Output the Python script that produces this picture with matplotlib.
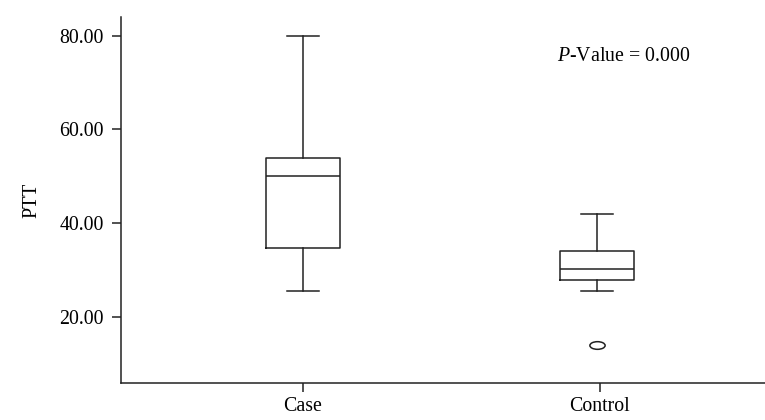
import matplotlib
matplotlib.use("Agg")
import matplotlib.pyplot as plt
from matplotlib.path import Path
from matplotlib.transforms import Affine2D

plt.rcParams['font.family'] = ['Liberation Serif', 'DejaVu Serif']
plt.rcParams['mathtext.fontset'] = 'custom'
plt.rcParams['mathtext.rm'] = 'Liberation Serif'
plt.rcParams['mathtext.it'] = 'Liberation Serif:italic'

# data
groups = ['Case', 'Control']
whislo = [25.4, 25.4]
q1 = [34.6, 27.8]
med = [50.0, 30.1]
q3 = [53.8, 34.0]
whishi = [80.0, 41.8]
outliers = [[], [14.0]]
yticks = [20, 40, 60, 80]

stats = []
for i in range(len(groups)):
    stats.append({'label': groups[i], 'whislo': whislo[i], 'q1': q1[i], 'med': med[i],
                  'q3': q3[i], 'whishi': whishi[i], 'fliers': outliers[i]})

# oval marker for the outlier
oval = Path.unit_circle().transformed(Affine2D().scale(1.0, 0.5))

fig = plt.figure(figsize=(7.65, 4.2), dpi=100)
ax = fig.add_axes([0.158, 0.088, 0.842, 0.872])

lc = '#222222'
lp = dict(color=lc, linewidth=1.1)
ax.bxp(stats, positions=[1, 1.99], widths=0.25, capwidths=0.11,
       boxprops=lp, whiskerprops=lp, capprops=lp, medianprops=lp,
       flierprops=dict(marker=oval, markersize=11, markerfacecolor='none',
                       markeredgecolor=lc, markeredgewidth=1.1))
ax.set_xticks([1, 2])
ax.set_xticklabels(groups)

ax.set_xlim(0.387, 2.556)
ax.set_ylim(5.8, 84)
ax.set_yticks(yticks)
ax.set_yticklabels(['%.2f' % v for v in yticks])
ax.set_ylabel('PTT', fontsize=14.3, labelpad=13)

ax.spines['top'].set_visible(False)
ax.spines['right'].set_visible(False)
for s in ['left', 'bottom']:
    ax.spines[s].set_linewidth(1.1)
    ax.spines[s].set_color(lc)
ax.tick_params(axis='both', length=6.5, width=1.1, color=lc, labelsize=14.3, pad=6)
ax.tick_params(axis='x', pad=3.5)

ax.text(1.855, 75.5, r'$\mathit{P}$-Value = 0.000', fontsize=14.3, va='center', ha='left')

fig.savefig('out.png', dpi=100)
